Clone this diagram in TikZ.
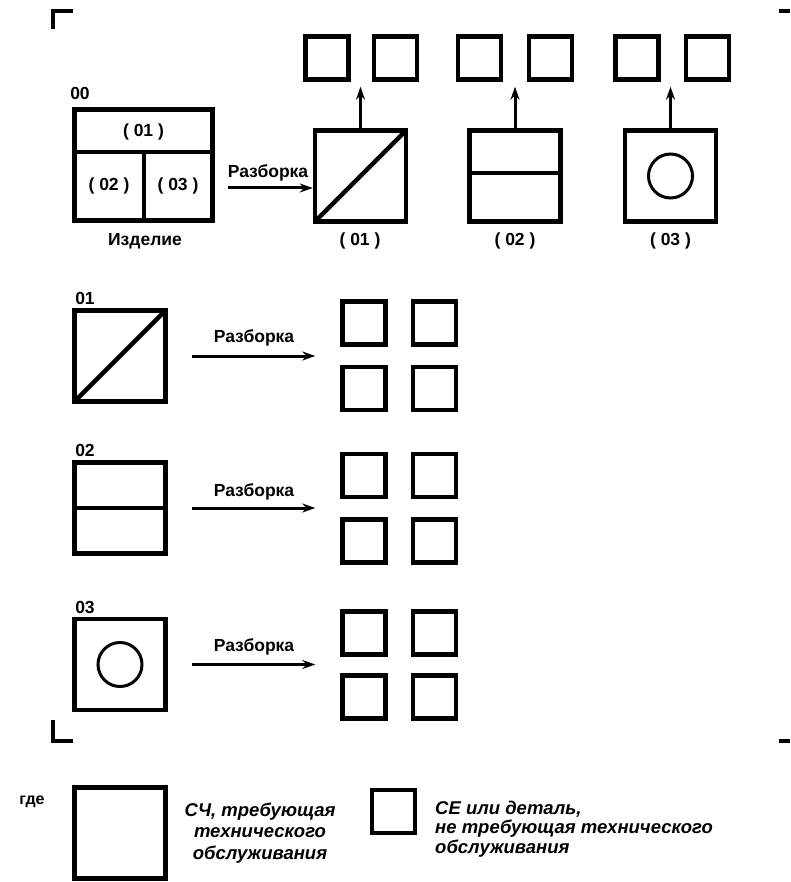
\documentclass[tikz,border=0pt]{standalone}
\usepackage{fontspec}
\setmainfont{Liberation Sans}
\usetikzlibrary{arrows.meta}
\begin{document}
\begin{tikzpicture}[x=1pt,y=-1pt,
  box/.style={draw, line width=4.5pt, inner sep=0pt, minimum size=#1},
  sq/.style={draw, line width=4.5pt, inner sep=0pt, minimum size=43pt},
  divline/.style={line width=4pt},
  diag/.style={line width=4.5pt},
  ring/.style={draw, circle, line width=3pt, inner sep=0pt, minimum size=44pt},
  arr/.style={line width=3pt, -{Stealth[length=13pt,width=9pt]}},
  lbl/.style={font=\fontsize{17.5}{20}\selectfont\bfseries, inner sep=0pt},
  legtxt/.style={font=\bfseries\itshape, inner sep=0pt},
  cmark/.style={line width=3.5pt},
]
\useasboundingbox (0,0) rectangle (790,882);

% corner marks
\draw[cmark] (53,29) -- (53,11) -- (73,11);
\draw[cmark] (779,11) -- (790,11);
\draw[cmark] (53,720) -- (53,741) -- (73,741);
\draw[cmark] (779,741) -- (790,741);

% ---- top row: product 00 ----
\node[draw, line width=4.5pt, inner sep=0pt, minimum width=138pt, minimum height=111pt] (b00) at (143.5,165) {};
\draw[divline] (74.5,152) -- (212.5,152);
\draw[divline] (144,152) -- (144,220.5);
\node[lbl] (n00) at (80,93) {00};
\node[lbl] (p01) at (143.5,132) {( 01 )};
\node[lbl] (p02) at (109,186) {( 02 )};
\node[lbl] (p03) at (178,186) {( 03 )};
\node[lbl] (izd) at (145,241) {Изделие};

% disassembled units
\node[box=91pt] (c1) at (360.5,176) {};
\draw[diag] ([xshift=2.25pt,yshift=2.25pt]c1.south west) -- ([xshift=-2.25pt,yshift=-2.25pt]c1.north east);
\node[box=91pt] (c2) at (515,176) {};
\draw[divline] ([yshift=3pt]c2.west) -- ([yshift=3pt]c2.east);
\node[box=91pt] (c3) at (670.5,176) {};
\node[ring] (o3) at (c3.center) {};
\node[lbl] (q1) at (360,241) {( 01 )};
\node[lbl] (q2) at (515,241) {( 02 )};
\node[lbl] (q3) at (670.5,241) {( 03 )};

% top small squares
\node[sq] (t1) at (327,58) {};
\node[sq] (t2) at (395.5,58) {};
\node[sq] (t3) at (479.5,58) {};
\node[sq] (t4) at (550.5,58) {};
\node[sq] (t5) at (637,58) {};
\node[sq] (t6) at (707.5,58) {};

\draw[arr, shorten >=5pt] (c1.north) -- (c1.north |- t1.south);
\draw[arr, shorten >=5pt] (c2.north) -- (c2.north |- t3.south);
\draw[arr, shorten >=5pt] (c3.north) -- (c3.north |- t5.south);

\coordinate (ay) at (0,188);
\draw[arr, shorten <=13pt] (b00.east |- ay) -- (c1.west |- ay);
\node[lbl] (rz0) at (268,173) {Разборка};

% ---- row 01 ----
\node[box=91pt] (r1) at (120,356) {};
\draw[diag] ([xshift=2.25pt,yshift=2.25pt]r1.south west) -- ([xshift=-2.25pt,yshift=-2.25pt]r1.north east);
\node[lbl] (n01) at (85,298) {01};
\node[sq] (g1a) at (364,323) {};
\node[sq] (g1b) at (434.5,323) {};
\node[sq] (g1c) at (364,388.5) {};
\node[sq] (g1d) at (434.5,388.5) {};
\draw[arr, shorten <=24pt, shorten >=25pt] (r1.east) -- (r1.east -| g1a.west);
\node[lbl] (rz1) at (254,338) {Разборка};

% ---- row 02 ----
\node[box=91pt] (r2) at (120,508) {};
\draw[divline] (r2.west) -- (r2.east);
\node[lbl] (n02) at (85,450) {02};
\node[sq] (g2a) at (364,475.5) {};
\node[sq] (g2b) at (434.5,475.5) {};
\node[sq] (g2c) at (364,541) {};
\node[sq] (g2d) at (434.5,541) {};
\draw[arr, shorten <=24pt, shorten >=25pt] (r2.east) -- (r2.east -| g2a.west);
\node[lbl] (rz2) at (254,492) {Разборка};

% ---- row 03 ----
\node[box=91pt] (r3) at (120,664.5) {};
\node[ring] (o4) at (r3.center) {};
\node[lbl] (n03) at (85,607) {03};
\node[sq] (g3a) at (364,633) {};
\node[sq] (g3b) at (434.5,633) {};
\node[sq] (g3c) at (364,697) {};
\node[sq] (g3d) at (434.5,697) {};
\draw[arr, shorten <=24pt, shorten >=25pt] (r3.east) -- (r3.east -| g3a.west);
\node[lbl] (rz3) at (254,647) {Разборка};

% ---- legend ----
\node[font=\fontsize{16}{18}\selectfont\bfseries, inner sep=0pt] (gde) at (32,802) {где};
\node[box=91pt] (L1) at (120,833) {};
\node[legtxt, font=\fontsize{18.5}{21.5}\selectfont\bfseries\itshape, align=center] (L1t) at (260,833) {СЧ, требующая\\технического\\обслуживания};
\node[sq] (L2) at (393.5,811.5) {};
\node[legtxt, font=\fontsize{18.5}{19.5}\selectfont\bfseries\itshape, align=left, anchor=west] (L2t) at (435,829) {СЕ или деталь,\\не требующая технического\\обслуживания};
\end{tikzpicture}
\end{document}
